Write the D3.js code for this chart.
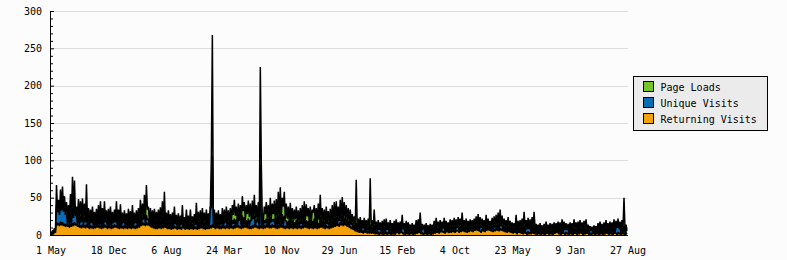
<!DOCTYPE html>
<html>
<head>
<meta charset="utf-8">
<script src="https://cdn.jsdelivr.net/npm/d3@7"></script>
<style>
  body { margin: 0; background: #fcfcfc; }
  svg { display: block; }
</style>
</head>
<body>
<div id="chart"></div>
<script>
// one reading every 4 days, starting 1 May 2006
const startDate = "2006-05-01";
const stepDays = 4;

const pageLoads = [
  2,1,6,4,9,7,67,34,47,30,61,36,65,36,52,30,44,26,40,24,
  55,26,78,30,73,26,38,24,48,24,45,24,49,22,42,22,68,20,36,18,
  34,18,38,18,31,18,35,19,40,20,45,20,36,20,45,18,33,18,35,18,
  38,17,31,17,34,18,45,18,34,18,41,17,30,16,33,16,29,16,35,17,
  32,16,40,17,30,16,33,17,36,18,47,22,42,22,54,24,67,34,38,18,
  36,17,33,17,35,17,31,17,34,17,37,18,45,20,58,16,30,16,33,16,
  28,14,30,15,38,15,27,14,29,14,26,14,40,14,24,13,34,14,26,14,
  34,15,25,14,28,14,43,15,31,16,33,16,36,16,30,15,34,16,29,15,
  38,105,268,18,34,16,30,15,33,16,28,14,36,16,34,16,38,17,33,16,
  36,17,40,27,47,26,38,18,42,19,40,19,52,32,44,20,40,28,46,24,
  42,19,46,22,54,22,40,19,44,20,225,94,22,19,38,28,44,20,40,19,
  50,21,42,28,46,20,48,21,58,23,64,26,50,38,58,22,42,22,38,17,
  43,18,36,17,34,21,38,17,33,16,36,17,40,18,45,20,41,25,36,17,
  38,17,34,30,40,18,36,15,42,20,54,18,36,16,34,16,38,17,32,15,
  35,16,40,18,44,20,45,20,38,19,47,21,51,22,44,20,40,18,36,17,
  34,16,28,14,25,12,74,12,22,11,24,11,20,10,23,11,20,10,22,10,
  76,11,20,10,34,9,18,9,20,9,17,9,19,9,21,10,22,9,17,9,
  20,9,16,8,19,9,21,9,17,9,18,9,27,9,16,8,19,8,17,9,
  14,8,16,8,14,8,20,9,21,9,30,9,15,8,14,8,16,8,13,7,
  15,8,14,8,19,9,23,10,18,9,20,9,18,9,23,10,19,9,17,9,
  21,10,20,10,23,11,21,11,24,12,22,11,30,11,20,10,22,11,19,10,
  21,10,20,10,22,11,25,11,28,12,24,11,22,11,20,10,27,11,22,11,
  19,10,23,11,25,12,27,12,30,13,34,13,26,12,22,11,20,10,24,11,
  19,9,17,9,16,8,27,9,19,9,20,9,22,10,31,10,20,9,23,9,
  21,9,24,10,31,9,15,8,14,7,16,8,13,7,15,8,18,8,14,7,
  16,8,15,7,17,8,16,8,18,8,17,8,21,9,18,8,16,8,15,7,
  17,8,16,8,21,9,17,8,18,8,20,9,17,8,19,9,21,8,14,7,
  12,6,11,6,13,7,12,6,16,7,18,8,15,8,17,8,20,8,16,8,
  18,8,17,8,21,9,19,10,22,9,18,8,20,9,50,8,14,7
];

const uniqueVisits = [
  2,1,5,2,8,4,40,31,34,27,40,33,42,31,36,27,30,14,28,14,
  30,15,36,23,40,26,26,14,28,13,26,17,28,13,24,17,30,12,22,12,
  22,16,22,12,20,13,22,13,24,12,26,12,22,13,26,17,20,12,22,12,
  22,12,20,16,21,17,24,12,21,11,23,12,19,16,20,12,18,12,21,12,
  20,12,22,12,19,16,20,12,22,13,26,16,24,21,28,16,27,20,22,14,
  21,12,20,12,21,12,19,12,20,12,21,12,24,12,26,12,18,12,19,11,
  17,11,18,11,20,15,16,11,17,11,16,14,20,11,15,11,18,11,16,11,
  18,11,15,11,16,14,22,11,18,12,19,12,20,11,17,11,19,12,17,12,
  38,36,105,12,20,12,18,12,19,12,17,14,20,12,19,16,21,12,19,12,
  20,12,20,15,22,12,21,12,23,19,22,12,26,12,24,13,20,12,22,12,
  20,19,25,22,26,12,21,17,22,12,94,12,22,12,20,16,22,12,21,12,
  24,17,21,18,22,12,23,12,26,13,30,13,28,12,26,19,19,12,19,12,
  21,12,19,12,17,12,20,12,18,12,19,15,21,12,23,13,20,12,19,12,
  20,12,19,12,22,12,19,12,16,12,24,13,19,12,18,12,20,15,17,12,
  19,12,21,13,23,14,24,15,22,19,25,16,26,16,23,15,21,14,19,12,
  19,14,16,9,14,8,16,7,13,7,13,6,12,9,13,6,12,6,12,6,
  14,5,11,5,13,4,10,4,11,7,10,4,11,3,11,3,12,7,10,4,
  11,3,9,3,10,4,12,4,10,4,11,4,13,8,9,3,10,4,10,4,
  9,4,10,3,9,3,11,4,11,4,12,4,9,8,9,3,10,3,8,3,
  9,3,9,4,11,5,12,5,10,5,11,5,11,9,12,5,11,5,10,5,
  11,6,11,6,12,6,12,10,13,6,12,7,14,7,11,6,12,6,11,6,
  12,7,11,7,12,8,13,8,14,6,13,10,12,7,11,7,13,8,12,8,
  11,7,12,7,13,10,14,8,15,8,16,12,14,7,12,6,11,6,12,6,
  11,5,10,5,9,5,12,5,10,5,11,4,11,4,13,4,10,8,11,8,
  11,4,12,4,12,3,9,3,8,3,9,3,8,3,9,3,10,3,8,3,
  9,3,8,3,9,4,9,4,10,3,9,3,11,3,10,7,9,7,8,3,
  9,3,9,3,10,3,9,3,9,4,10,4,9,3,10,3,10,3,8,3,
  7,6,7,3,8,3,7,3,9,3,10,3,9,3,9,3,10,3,9,3,
  9,3,9,3,10,3,11,10,12,9,9,3,10,3,12,3,8,5
];

const returningVisits = [
  1,0,3,1,6,3,17,13,16,12,18,13,17,12,15,11,15,11,14,10,
  15,11,16,12,17,13,15,11,14,10,13,9,14,10,13,9,14,10,12,8,
  13,9,12,8,13,9,14,10,13,9,12,8,13,9,14,10,12,8,13,9,
  12,8,13,9,14,10,13,9,12,8,13,9,12,8,13,9,12,8,13,9,
  12,8,13,9,12,8,13,9,14,10,16,12,17,13,16,12,17,13,16,12,
  14,10,13,9,12,8,12,8,13,9,12,8,13,9,14,10,12,8,12,8,
  11,7,12,8,12,9,11,7,12,8,11,7,12,9,11,7,12,8,11,7,
  12,8,11,7,12,8,11,7,12,8,13,9,12,8,11,7,12,8,12,8,
  13,9,14,10,12,8,13,9,12,8,12,8,13,9,12,8,13,9,12,8,
  13,9,12,8,13,9,14,10,13,9,12,8,13,9,14,10,13,9,12,8,
  12,8,13,9,14,10,13,9,12,8,13,9,12,8,13,9,14,10,13,9,
  13,9,14,10,13,9,12,8,13,9,14,10,13,9,12,8,13,9,12,8,
  13,9,12,8,13,9,12,8,13,9,12,8,13,9,14,10,13,9,12,8,
  13,9,12,8,13,9,12,8,13,9,14,10,13,9,12,8,13,9,12,8,
  13,9,14,10,15,11,16,12,15,11,17,13,16,12,17,13,15,11,14,10,
  12,8,11,7,9,5,8,4,7,3,7,3,6,2,7,3,6,2,6,2,
  6,2,5,2,5,1,4,1,4,0,4,1,4,0,3,1,4,0,4,1,
  4,0,3,1,4,0,5,3,4,1,5,3,4,1,3,0,4,1,4,0,
  4,1,4,0,3,1,4,2,5,3,4,1,4,0,3,1,4,0,3,1,
  4,0,4,1,5,2,5,3,6,2,5,4,6,3,5,2,6,4,5,3,
  6,3,7,4,6,3,7,5,6,3,7,4,8,5,7,4,6,3,7,4,
  8,5,7,4,8,6,9,6,8,5,6,3,8,5,7,4,8,6,9,6,
  8,5,7,4,8,5,9,6,8,5,9,6,8,5,7,4,6,3,7,4,
  6,3,5,2,6,3,5,1,6,3,5,2,4,1,5,2,4,0,5,1,
  4,1,5,2,4,1,3,0,4,1,3,0,4,1,3,0,4,2,3,0,
  4,1,3,0,4,2,5,3,4,1,3,0,4,2,3,0,4,1,3,0,
  4,1,3,0,4,2,3,0,4,1,5,2,4,0,3,1,4,2,3,0,
  3,0,3,1,4,0,3,1,4,0,3,1,4,0,3,1,4,2,3,0,
  4,1,3,0,4,2,3,0,4,1,3,0,4,1,3,0,3,1
];

const seriesNames = ["Page Loads", "Unique Visits", "Returning Visits"];
const seriesColors = ["#77c32b", "#0b6cb6", "#f4a20c"];

const xTickDates = [
  "2006-05-01", "2006-12-18", "2007-08-06", "2008-03-24", "2008-11-10", "2009-06-29",
  "2010-02-15", "2010-10-04", "2011-05-23", "2012-01-09", "2012-08-27"
];
const yTicks = [0, 50, 100, 150, 200, 250, 300];
const yMinorTicks = [10, 20, 30, 40, 60, 70, 80, 90, 110, 120, 130, 140, 160, 170, 180, 190, 210, 220, 230, 240, 260, 270, 280, 290];

const width = 787;
const height = 260;
const monoFont = "'DejaVu Sans Mono', 'Liberation Mono', monospace";

function drawChart() {
  const parseDate = d3.utcParse("%Y-%m-%d");
  const start = parseDate(startDate);
  const tickDates = xTickDates.map(parseDate);

  const svg = d3
    .select("#chart")
    .append("svg")
    .attr("width", width)
    .attr("height", height);

  const x = d3
    .scaleUtc()
    .domain([tickDates[0], tickDates[tickDates.length - 1]])
    .range([50.5, 627.5]);

  const y = d3.scaleLinear().domain([0, 300]).range([235, 11]);

  // grid lines
  svg
    .append("g")
    .selectAll("line")
    .data(yTicks.filter((d) => d > 0))
    .join("line")
    .attr("x1", 51)
    .attr("x2", 628)
    .attr("y1", (d) => Math.round(y(d)) + 0.5)
    .attr("y2", (d) => Math.round(y(d)) + 0.5)
    .attr("stroke", "#dcdcdc")
    .attr("stroke-width", 1);

  const series = [pageLoads, uniqueVisits, returningVisits].map((values, s) => ({
    name: seriesNames[s],
    color: seriesColors[s],
    points: values.map((v, i) => ({ date: d3.utcDay.offset(start, stepDays * i), value: v })),
  }));

  const area = d3
    .area()
    .x((d) => x(d.date))
    .y0(y(0))
    .y1((d) => y(d.value));

  const line = d3
    .line()
    .x((d) => x(d.date))
    .y((d) => y(d.value));

  // biggest series first, each one painted over the one before;
  // a slightly wide outline lets the dense up/down strokes close up like the original
  series.forEach((s) => {
    svg.append("path").datum(s.points).attr("d", area).attr("fill", s.color);
    svg
      .append("path")
      .datum(s.points)
      .attr("d", line)
      .attr("fill", "none")
      .attr("stroke", "#000")
      .attr("stroke-width", 1.5)
      .attr("stroke-linejoin", "bevel");
  });

  // y axis, ticks pointing into the plot
  const yAxis = svg
    .append("g")
    .attr("transform", "translate(50,0)")
    .call(d3.axisLeft(y).tickValues(yTicks).tickSizeInner(-4).tickSizeOuter(0).tickPadding(8));

  svg
    .append("g")
    .attr("transform", "translate(50,0)")
    .call(d3.axisLeft(y).tickValues(yMinorTicks).tickSizeInner(-3).tickSizeOuter(0).tickFormat(""))
    .select(".domain")
    .remove();

  const xAxis = svg
    .append("g")
    .attr("transform", "translate(0,235)")
    .call(
      d3
        .axisBottom(x)
        .tickValues(tickDates)
        .tickSize(0)
        .tickPadding(12)
        .tickFormat(d3.utcFormat("%-d %b"))
    );

  [yAxis, xAxis].forEach((g) => {
    g.attr("font-family", monoFont).attr("font-size", 10);
    g.selectAll("text").attr("fill", "#000");
    g.selectAll("path, line").attr("stroke", "#000");
  });

  // legend
  const legend = svg.append("g").attr("transform", "translate(633.5,76.5)");

  legend
    .append("rect")
    .attr("width", 134)
    .attr("height", 54)
    .attr("fill", "#ebebeb")
    .attr("stroke", "#000");

  const items = legend
    .selectAll(".item")
    .data(series)
    .join("g")
    .attr("class", "item")
    .attr("transform", (d, i) => `translate(10,${5 + i * 16})`);

  items
    .append("rect")
    .attr("width", 10)
    .attr("height", 10)
    .attr("fill", (d) => d.color)
    .attr("stroke", "#000");

  items
    .append("text")
    .attr("x", 17)
    .attr("y", 9)
    .attr("font-family", monoFont)
    .attr("font-size", 10)
    .attr("fill", "#000")
    .text((d) => d.name);
}

drawChart();
</script>
</body>
</html>
